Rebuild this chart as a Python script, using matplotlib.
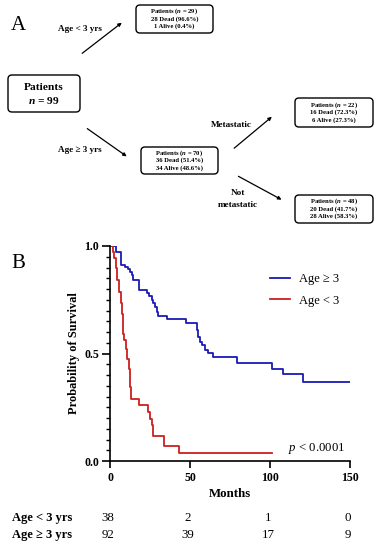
import numpy as np
import matplotlib.pyplot as plt
from matplotlib.patches import FancyBboxPatch

plt.rcParams['font.family'] = ['Liberation Serif', 'DejaVu Serif']
plt.rcParams['mathtext.fontset'] = 'custom'
plt.rcParams['mathtext.rm'] = 'Liberation Serif'
plt.rcParams['mathtext.it'] = 'Liberation Serif:italic'
plt.rcParams['mathtext.bf'] = 'Liberation Serif:bold'
plt.rcParams['mathtext.bfit'] = 'Liberation Serif:italic:bold'

# Kaplan-Meier steps (months, survival after the step)
blue_t = [0, 3.5, 6.9, 9.4, 11.0, 12.5, 14.0, 14.6, 18.3, 22.9, 24.6, 26.0, 27.0, 28.1,
          29.2, 30.2, 35.4, 47.5, 54.2, 55.2, 56.3, 57.3, 59.4, 61.5, 64.6, 79.2,
          101.0, 108.3, 120.4, 150]
blue_s = [1.0, 0.970, 0.911, 0.904, 0.893, 0.880, 0.865, 0.842, 0.795, 0.782, 0.767,
          0.751, 0.733, 0.714, 0.694, 0.674, 0.661, 0.643, 0.608, 0.577, 0.554, 0.538,
          0.518, 0.503, 0.484, 0.458, 0.430, 0.403, 0.368, 0.368]
red_t = [0, 1.7, 2.5, 3.5, 4.6, 5.6, 6.7, 7.3, 7.9, 8.3, 8.75, 10.0, 10.8, 12.1, 12.5,
         13.1, 18.3, 24.0, 25.0, 26.0, 27.0, 34.0, 43.4, 101.4]
red_s = [1.0, 0.974, 0.943, 0.896, 0.841, 0.787, 0.733, 0.686, 0.624, 0.593, 0.562,
         0.523, 0.476, 0.430, 0.344, 0.287, 0.259, 0.228, 0.197, 0.166, 0.114, 0.072,
         0.036, 0.036]

risk_times = [0, 50, 100, 150]
risk_young = [38, 2, 1, 0]
risk_old = [92, 39, 17, 9]

W, H = 384, 550
fig = plt.figure(figsize=(W / 100, H / 100), dpi=100)

# overlay in pixel coordinates for the flow chart and labels
ov = fig.add_axes([0, 0, 1, 1])
ov.set_xlim(0, W)
ov.set_ylim(H, 0)
ov.axis('off')


def box(x0, y0, x1, y1, lines, size, lw=1.0, gap=8.0):
    ov.add_patch(FancyBboxPatch((x0, y0), x1 - x0, y1 - y0,
                                boxstyle='round,pad=0,rounding_size=4',
                                fc='white', ec='black', lw=lw))
    cx, cy = (x0 + x1) / 2, (y0 + y1) / 2
    n = len(lines)
    for i, t in enumerate(lines):
        ov.text(cx, cy + (i - (n - 1) / 2) * gap, t, ha='center', va='center',
                fontsize=size, fontweight='bold')


def arrow(x0, y0, x1, y1):
    ov.annotate('', xy=(x1, y1), xytext=(x0, y0),
                arrowprops=dict(arrowstyle='-|>', color='black', lw=0.9,
                                mutation_scale=5))


ov.text(11, 25, 'A', fontsize=15, va='center')
ov.text(11, 263, 'B', fontsize=15, va='center')

nb = r'$\mathbfit{n}$'
box(8, 75, 80, 112, ['Patients', nb + ' = 99'], 8.2, lw=1.0, gap=13)
box(136, 5, 213, 33, ['Patients (' + nb + ' = 29)', '28 Dead (96.6%)', '1 Alive (0.4%)'], 4.8, gap=7.5)
box(141, 147, 218, 174, ['Patients (' + nb + ' = 70)', '36 Dead (51.4%)', '34 Alive (48.6%)'], 4.8, gap=7.5)
box(295, 98, 373, 127, ['Patients (' + nb + ' = 22)', '16 Dead (72.3%)', '6 Alive (27.3%)'], 4.8, gap=7.5)
box(295, 195, 373, 223, ['Patients (' + nb + ' = 48)', '20 Dead (41.7%)', '28 Alive (58.3%)'], 4.8, gap=7.5)

arrow(80, 55, 124, 21)
arrow(85, 127, 129, 158)
arrow(232, 150, 274, 115)
arrow(236, 175, 284, 201)

lab = dict(ha='center', va='center', fontsize=6.6, fontweight='bold')
ov.text(80, 29, 'Age < 3 yrs', **lab)
ov.text(80, 150, 'Age ≥ 3 yrs', **lab)
ov.text(231, 125, 'Metastatic', **lab)
ov.text(238, 193, 'Not', **lab)
ov.text(238, 205, 'metastatic', **lab)

# survival plot
ax = fig.add_axes([110 / W, (H - 461) / H, 240 / W, 215 / H])
ax.step(blue_t, blue_s, where='post', color='#1a1ab4', lw=1.3, label='Age ≥ 3')
ax.step(red_t, red_s, where='post', color='#cc2020', lw=1.3, label='Age < 3')
ax.set_xlim(0, 150)
ax.set_ylim(0, 1.0)
ax.set_xticks([0, 50, 100, 150])
ax.set_yticks([0.0, 0.5, 1.0])
ax.set_yticks(np.arange(0, 1.0, 0.05), minor=True)
ax.set_yticklabels(['0.0', '0.5', '1.0'])
for t in ax.get_xticklabels() + ax.get_yticklabels():
    t.set_fontweight('bold')
    t.set_fontsize(8.6)
ax.tick_params(axis='x', which='major', length=5, width=1.2, pad=3)
ax.tick_params(axis='y', which='major', length=6, width=1.2, pad=2)
ax.tick_params(axis='y', which='minor', length=3, width=1.0)
for s in ['top', 'right']:
    ax.spines[s].set_visible(False)
for s in ['left', 'bottom']:
    ax.spines[s].set_linewidth(1.2)
ax.set_xlabel('Months', fontsize=9.3, fontweight='bold', labelpad=3)
ax.set_ylabel('Probability of Survival', fontsize=8.9, fontweight='bold', labelpad=3)
ax.legend(loc='upper left', bbox_to_anchor=(0.62, 0.925), frameon=False, fontsize=9,
          handlelength=1.6, labelspacing=0.75, handletextpad=0.7)
ax.text(129, 0.058, r'$p$ < 0.0001', ha='center', va='center', fontsize=9.2)

# number at risk table
ov.text(12, 518, 'Age < 3 yrs', ha='left', va='center', fontsize=9, fontweight='bold')
ov.text(12, 535, 'Age ≥ 3 yrs', ha='left', va='center', fontsize=9, fontweight='bold')
for t, a, b in zip(risk_times, risk_young, risk_old):
    xp = 110 + t * 240 / 150
    ov.text(xp - 2, 518, str(a), ha='center', va='center', fontsize=9.3)
    ov.text(xp - 2, 535, str(b), ha='center', va='center', fontsize=9.3)

fig.savefig('out.png', dpi=100)
